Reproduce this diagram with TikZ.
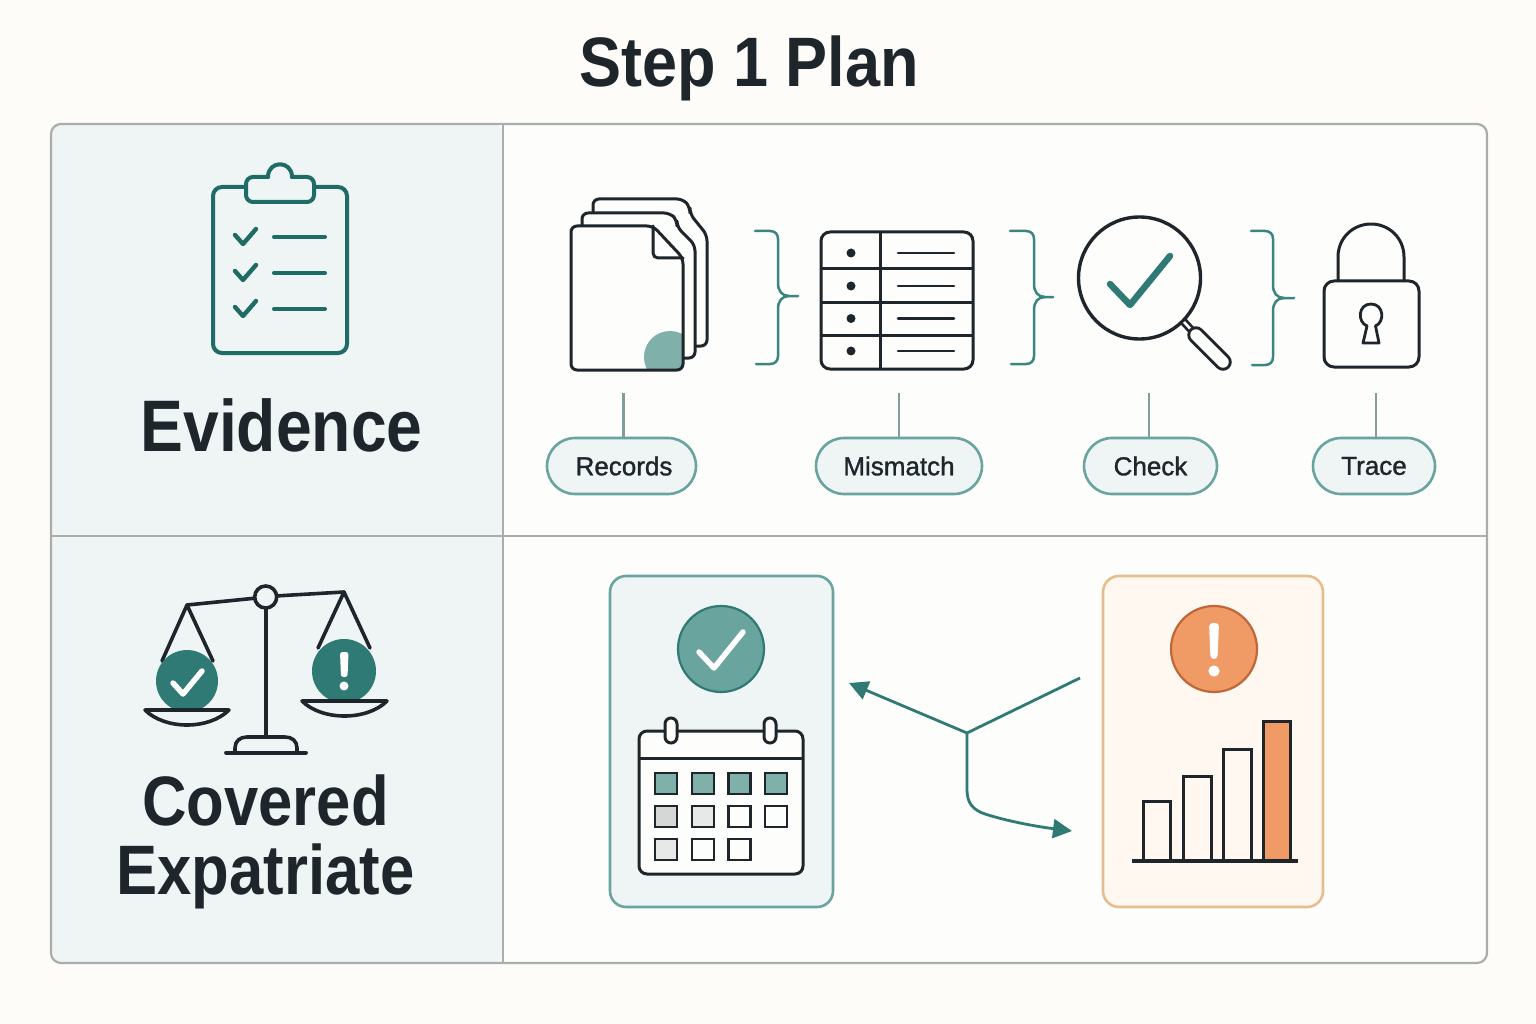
\documentclass[tikz,border=0pt]{standalone}
\usepackage{fontspec}
\usetikzlibrary{arrows.meta,shapes.misc}
\setmainfont{Liberation Sans}
\newfontfamily\ttlfont{Liberation Sans}[FakeStretch=0.9]
\newfontfamily\headfont{Liberation Sans}[FakeStretch=0.88]
\newfontfamily\pillfont{Liberation Sans}[FakeBold=1.2]
\definecolor{pagebg}{HTML}{FDFCF8}
\definecolor{cellbg}{HTML}{FDFDFB}
\definecolor{panelbg}{HTML}{EFF5F5}
\definecolor{framegray}{HTML}{A9AEAC}
\definecolor{ink}{HTML}{1E262B}
\definecolor{tealdark}{HTML}{1F6B66}
\definecolor{teal}{HTML}{2F7A74}
\definecolor{tealmid}{HTML}{3A8580}
\definecolor{tealsoft}{HTML}{69A49E}
\definecolor{teallight}{HTML}{7FB0A9}
\definecolor{stemgray}{HTML}{7F9F9C}
\definecolor{orangeline}{HTML}{C0673A}
\definecolor{orangefill}{HTML}{F09A65}
\definecolor{orangecard}{HTML}{FEF8F0}
\definecolor{orangeborder}{HTML}{E5BD8F}
\tikzset{
  inkline/.style={draw=ink,line width=3pt,line join=round,line cap=round},
  clipline/.style={draw=tealdark,line width=4pt,line join=round,line cap=round},
  bracestyle/.style={draw=tealmid,line width=2.5pt,line cap=round},
  stemline/.style={draw=stemgray,line width=2.4pt},
  pill/.style={rounded rectangle,draw=tealsoft,fill=panelbg,line width=2.6pt,inner sep=0pt,
    minimum height=56pt,font=\pillfont\fontsize{26}{26}\selectfont,text=ink},
  flowline/.style={draw=teal,line width=2.8pt},
  flowarrow/.style={flowline,-{Triangle[length=19pt,width=19pt]}},
  heading/.style={text=ink,align=center,inner sep=0pt},
  calcell/.style={draw=ink,line width=2.4pt,minimum width=22pt,minimum height=21pt,inner sep=0pt},
  bar/.style={draw=ink,line width=3pt,line join=miter}
}
\begin{document}
\begin{tikzpicture}[x=1pt,y=-1pt]
\useasboundingbox (0,0) rectangle (1536,1024);
\fill[pagebg] (0,0) rectangle (1536,1024);
% frame
\fill[cellbg,rounded corners=10pt] (51,124) rectangle (1487,963);
\fill[panelbg,rounded corners=10pt] (51,124) -- (503,124) -- (503,963) -- (51,963) -- cycle;
\draw[framegray,line width=2.2pt] (503,124) -- (503,963);
\draw[framegray,line width=2.2pt] (51,536) -- (1487,536);
\draw[framegray,line width=2.2pt,rounded corners=10pt] (51,124) rectangle (1487,963);
% title and headings
\node[heading,anchor=base] (title) at (749,87) {\ttlfont\bfseries\fontsize{70}{70}\selectfont Step 1 Plan};
\node[heading,anchor=base] (evidence) at (281.5,451) {\headfont\bfseries\fontsize{73}{73}\selectfont Evidence};
\node[heading,font=\headfont\bfseries\fontsize{70}{69}\selectfont] (covered) at (265.5,842) {Covered\\Expatriate};
% clipboard
\draw[clipline,rounded corners=9pt] (246,187) -- (213,187) -- (213,353) -- (347,353) -- (347,187) -- (314,187);
\draw[clipline] (268,177) .. controls (268,160) and (292,160) .. (292,177);
\draw[clipline,rounded corners=7pt] (268,177) -- (246,177) -- (246,202) -- (314,202) -- (314,177) -- (292,177);
\foreach \yy in {0,36,72} {
  \draw[clipline,line width=4.4pt] (235,235+\yy) -- (243,244+\yy) -- (256,229+\yy);
  \draw[clipline] (274,237+\yy) -- (325,237+\yy);
}
% documents
\draw[inkline,fill=cellbg,rounded corners=6pt] (593,213) -- (593,199) -- (683,199) -- (690,207) -- (690,214) -- (707,235) -- (707,346) -- (695,346);
\draw[inkline,fill=cellbg,rounded corners=6pt] (582,226) -- (582,213) -- (670,213) -- (677,220) -- (677,227) -- (695,245) -- (695,358) -- (683,358);
\begin{scope}
\fill[cellbg,rounded corners=6pt] (571,226) -- (653,226) -- (683,258) -- (683,370) -- (571,370) -- cycle;
\clip[rounded corners=6pt] (571,226) -- (653,226) -- (683,258) -- (683,370) -- (571,370) -- cycle;
\fill[teallight] (670,357) circle[radius=26];
\end{scope}
\draw[inkline,rounded corners=6pt] (571,226) -- (653,226) -- (683,258) -- (683,370) -- (571,370) -- cycle;
\draw[inkline,rounded corners=5pt] (653,226) -- (653,258) -- (683,258);
% braces
\draw[bracestyle] (755,231) -- (770,231) .. controls (775,231) and (778,234) .. (778,239) -- (778,283) .. controls (778,291) and (782,296) .. (789,296) -- (798,296);
\draw[bracestyle] (789,296) .. controls (782,296) and (778,301) .. (778,309) -- (778,356) .. controls (778,361) and (775,364) .. (770,364) -- (756,364);
\draw[bracestyle] (1010,231) -- (1026,231) .. controls (1031,231) and (1034,234) .. (1034,239) -- (1034,284) .. controls (1034,292) and (1038,297) .. (1045,297) -- (1053,297);
\draw[bracestyle] (1045,297) .. controls (1038,297) and (1034,302) .. (1034,310) -- (1034,356) .. controls (1034,361) and (1031,364) .. (1026,364) -- (1011,364);
\draw[bracestyle] (1251,231) -- (1265,231) .. controls (1270,231) and (1273,234) .. (1273,239) -- (1273,285) .. controls (1273,293) and (1277,298) .. (1284,298) -- (1294,298);
\draw[bracestyle] (1284,298) .. controls (1277,298) and (1273,303) .. (1273,311) -- (1273,357) .. controls (1273,362) and (1270,365) .. (1265,365) -- (1252,365);
% table
\draw[inkline,rounded corners=9pt] (821,232) rectangle (973,369);
\foreach \yy in {269,302,335} \draw[inkline,line cap=butt] (821,\yy) -- (973,\yy);
\draw[inkline,line cap=butt] (880,232) -- (880,369);
\foreach \yy in {253,286,318.5,351} {
  \fill[ink] (851,\yy) circle[radius=4.5];
  \draw[draw=ink,line width=2.6pt,line cap=round] (898,\yy) -- (954,\yy);
}
% magnifier
\draw[inkline,line width=3.4pt] (1139.5,278) circle[radius=61];
\draw[draw=teal,line width=6.5pt,line cap=round,line join=round] (1110,284) -- (1130,305) -- (1170,256);
\draw[ink,line width=8pt] (1183,321) -- (1196,335);
\draw[cellbg,line width=2.6pt] (1184,322) -- (1196,335);
\draw[ink,line width=17.5pt,line cap=round] (1196,335) -- (1223,362);
\draw[cellbg,line width=11.5pt,line cap=round] (1196,335) -- (1223,362);
% lock
\draw[inkline] (1338,281) -- (1338,257) .. controls (1338,238) and (1353,224) .. (1371,224) .. controls (1389,224) and (1404,238) .. (1404,257) -- (1404,281);
\draw[inkline,rounded corners=10pt] (1324,281) rectangle (1419,367);
\draw[inkline,line width=2.8pt,line join=round] (1367,326) -- (1363,343) -- (1379,343) -- (1375.5,326);
\draw[inkline,line width=2.8pt] (1367,326) .. controls (1357,322) and (1358,304) .. (1371,304) .. controls (1384,304) and (1385,322) .. (1375.5,326);
% pills and stems
\node[pill,minimum width=149pt] (records) at (621.5,466) {\hspace*{5pt}Records};
\node[pill,minimum width=166pt] (mismatch) at (899,466) {Mismatch};
\node[pill,minimum width=133pt] (check) at (1150.5,466) {Check};
\node[pill,minimum width=122pt] (trace) at (1374,466) {Trace};
\coordinate (srecords) at (623.5,393);
\coordinate (smismatch) at (899,393);
\coordinate (scheck) at (1149,393);
\coordinate (strace) at (1376,393);
\draw[stemline] (srecords) -- (srecords |- records.north);
\draw[stemline] (smismatch) -- (smismatch |- mismatch.north);
\draw[stemline] (scheck) -- (scheck |- check.north);
\draw[stemline] (strace) -- (strace |- trace.north);
% scale
\draw[inkline,line width=3.6pt] (187,605) -- (257,598);
\draw[inkline,line width=3.6pt] (275,596) -- (344,592);
\draw[inkline,line width=3.6pt] (265.7,608) -- (265.7,737);
\draw[inkline,line width=3.6pt] (235,752) -- (235,748) .. controls (235,741) and (240,737) .. (247,737) -- (285,737) .. controls (292,737) and (297,741) .. (297,748) -- (297,752);
\draw[inkline,line width=3.8pt] (226,752.7) -- (306,752.7);
\draw[inkline,line width=3.6pt] (162,661) -- (187,605) -- (213,661);
\draw[inkline,line width=3.6pt] (318,648) -- (344,592) -- (370,648);
\draw[inkline,line width=3.6pt,fill=panelbg] (265.7,597) circle[radius=11];
\fill[teal] (187,681) circle[radius=31];
\draw[white,line width=5.5pt,line cap=round,line join=round] (173,683) -- (183,694) -- (202,671);
\fill[teal] (344,671) circle[radius=32];
\fill[white,rounded corners=2.5pt] (340,652) -- (348.5,652) -- (347.5,677) -- (341,677) -- cycle;
\fill[white] (344,686) circle[radius=4.5];
\draw[inkline,line width=3.6pt] (145,710) .. controls (165,730) and (209,730) .. (229,710) -- cycle;
\draw[inkline,line width=3.6pt] (302,701) .. controls (322,721) and (367,721) .. (387,701) -- cycle;
% check card
\draw[draw=tealsoft,fill=panelbg,line width=2.6pt,rounded corners=16pt] (610,576) rectangle (833,907);
\draw[draw=teal,fill=tealsoft,line width=2.2pt] (721,649) circle[radius=43];
\draw[white,line width=5.5pt,line cap=round,line join=round] (699,652) -- (714,668) -- (743,632);
\draw[inkline,fill=cellbg,rounded corners=8pt] (639,731) rectangle (803,874);
\draw[inkline,line cap=butt] (639,758) -- (803,758);
\node[rounded rectangle,rotate=90,draw=ink,fill=cellbg,line width=3pt,minimum width=25pt,minimum height=12pt,inner sep=0pt] (ringa) at (671,730.5) {};
\node[rounded rectangle,rotate=90,draw=ink,fill=cellbg,line width=3pt,minimum width=25pt,minimum height=12pt,inner sep=0pt] (ringb) at (770,730.5) {};
\node[calcell,fill=teallight] (c11) at (666,783.5) {};
\node[calcell,fill=teallight] (c12) at (703,783.5) {};
\node[calcell,fill=teallight] (c13) at (739.5,783.5) {};
\node[calcell,fill=teallight] (c14) at (776,783.5) {};
\node[calcell,fill=black!16] (c21) at (666,816.5) {};
\node[calcell,fill=black!9] (c22) at (703,816.5) {};
\node[calcell,fill=cellbg] (c23) at (739.5,816.5) {};
\node[calcell,fill=cellbg] (c24) at (776,816.5) {};
\node[calcell,fill=black!9] (c31) at (666,849.5) {};
\node[calcell,fill=cellbg] (c32) at (703,849.5) {};
\node[calcell,fill=cellbg] (c33) at (739.5,849.5) {};
% alert card
\draw[draw=orangeborder,fill=orangecard,line width=2.6pt,rounded corners=16pt] (1103,576) rectangle (1323,907);
\draw[draw=orangeline,fill=orangefill,line width=2.2pt] (1214,649) circle[radius=43];
\fill[white,rounded corners=3.5pt] (1209,623) -- (1219,623) -- (1217.5,659) -- (1210.5,659) -- cycle;
\fill[white] (1214,671) circle[radius=5.6];
\draw[bar] (1143,861) -- (1143,801.5) -- (1170,801.5) -- (1170,861);
\draw[bar] (1183,861) -- (1183,776.5) -- (1211,776.5) -- (1211,861);
\draw[bar] (1223,861) -- (1223,749) -- (1251,749) -- (1251,861);
\draw[bar,fill=orangefill] (1263,861) -- (1263,721) -- (1290,721) -- (1290,861);
\draw[inkline,line width=3.2pt,line cap=butt] (1132,861) -- (1298,861);
% flow arrows
\coordinate (fork) at (967,733);
\coordinate (fromalert) at (1080,678);
\coordinate (tocheck) at (849,683);
\coordinate (toalert) at (1072,831);
\draw[flowline] (fromalert) -- (fork);
\draw[flowarrow] (fork) -- (tocheck);
\draw[flowarrow] (fork) -- (967,790) .. controls (967,803) and (973,810) .. (985,814) .. controls (1010,822) and (1040,827) .. (toalert);
\end{tikzpicture}
\end{document}
